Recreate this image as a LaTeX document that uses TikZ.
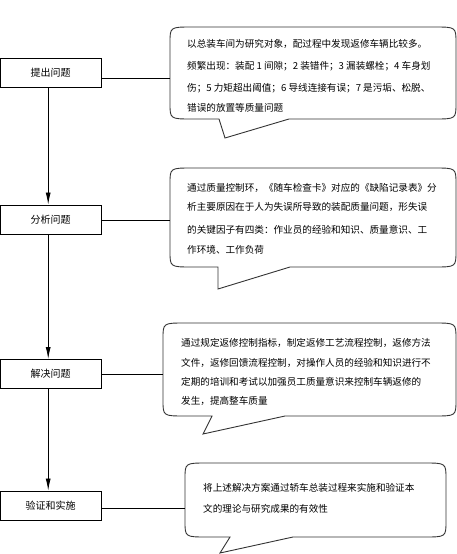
\documentclass[tikz,border=0pt]{standalone}
\usepackage{fontspec}
\newfontfamily\cjk{Noto Sans CJK SC}
\usetikzlibrary{arrows.meta}
\XeTeXlinebreaklocale "zh"
\XeTeXlinebreakskip=0pt plus 4pt
\newcommand\mycallout[8]{%
 \draw[bubble] (#5,#4) -- (#7,#8) -- (#6,#4) -- ({#3-22},#4) .. controls (#3,#4) .. (#3,{#4-16}) -- (#3,{#2+16}) .. controls (#3,#2) .. ({#3-22},#2) -- ({#1+22},#2) .. controls (#1,#2) .. (#1,{#2+16}) -- (#1,{#4-16}) .. controls (#1,#4) .. ({#1+22},#4) -- cycle;}
\tikzset{
 box/.style={draw, line width=0.9pt, minimum width=100.6pt, minimum height=29pt, inner sep=0pt, font=\cjk\fontsize{10}{12}\selectfont},
 bubble/.style={draw=black!80, line width=0.9pt},
 ln/.style={anchor=base west, inner sep=0pt, font=\cjk\fontsize{9.6}{12}\selectfont},
 jl/.style={ln, text width=#1, align=justify},
 arr/.style={-{Latex[length=12pt,width=5pt]}, line width=0.8pt},
 conn/.style={line width=0.8pt}
}
\begin{document}
\begin{tikzpicture}[x=1pt,y=-1pt]
\useasboundingbox (0,0) rectangle (457,554);
% left boxes
\node[box] (p1) at (50.7,72.5) {提出问题};
\node[box] (p2) at (50.7,219.5) {分析问题};
\node[box] (p3) at (50.7,374) {解决问题};
\node[box] (p4) at (50.7,505.5) {验证和实施};
\draw[arr] ([xshift=-2.5pt]p1.south) -- ([xshift=-2.5pt]p2.north);
\draw[arr] ([xshift=-2.5pt]p2.south) -- ([xshift=-2.5pt]p3.north);
\draw[arr] ([xshift=-2.5pt]p3.south) -- ([xshift=-2.5pt]p4.north);
% callouts
\mycallout{170}{27}{456}{119}{219}{289}{225}{138}
\mycallout{170}{168}{456}{267}{218}{290}{218}{289}
\mycallout{163}{323}{456}{416}{212}{285}{203}{434}
\mycallout{185}{463}{446}{537}{230}{293}{220}{553}
\coordinate (c1) at (170,78);
\coordinate (c2) at (170,220);
\coordinate (c3) at (163,374);
\coordinate (c4) at (185,508);
\draw[conn] (p1.east |- c1) -- (c1);
\draw[conn] (p2.east |- c2) -- (c2);
\draw[conn] (p3.east |- c3) -- (c3);
\draw[conn] (p4.east |- c4) -- (c4);
% texts callout 1
\node[jl=251pt] (t11) at (187,47) {\parfillskip=0pt 以总装车间为研究对象，配过程中发现返修车辆比较多。};
\node[jl=251pt] (t12) at (187,69) {\parfillskip=0pt 频繁出现：装配 1 间隙；2 装错件；3 漏装螺栓；4 车身划};
\node[jl=251pt] (t13) at (187,91) {\parfillskip=0pt 伤；5 力矩超出阈值；6 导线连接有误；7 是污垢、松脱、};
\node[ln] (t14) at (187,111) {错误的放置等质量问题};
% texts callout 2
\node[jl=253pt] (t21) at (187,191) {\parfillskip=0pt 通过质量控制环，《随车检查卡》对应的《缺陷记录表》分};
\node[jl=253pt] (t22) at (187,210) {\parfillskip=0pt 析主要原因在于人为失误所导致的装配质量问题，形失误};
\node[jl=253pt] (t23) at (187,233) {\parfillskip=0pt 的关键因子有四类：作业员的经验和知识、质量意识、工};
\node[ln] (t24) at (187,253) {作环境、工作负荷};
% texts callout 3
\node[jl=259pt] (t31) at (181,346) {\parfillskip=0pt 通过规定返修控制指标，制定返修工艺流程控制，返修方法};
\node[jl=259pt] (t32) at (181,366) {\parfillskip=0pt 文件，返修回馈流程控制，对操作人员的经验和知识进行不};
\node[jl=259pt] (t33) at (181,385) {\parfillskip=0pt 定期的培训和考试以加强员工质量意识来控制车辆返修的};
\node[ln] (t34) at (181,404) {发生，提高整车质量};
% texts callout 4
\node[jl=225pt] (t41) at (203,491) {\parfillskip=0pt 将上述解决方案通过轿车总装过程来实施和验证本};
\node[ln] (t42) at (203,512) {文的理论与研究成果的有效性};
\end{tikzpicture}
\end{document}
